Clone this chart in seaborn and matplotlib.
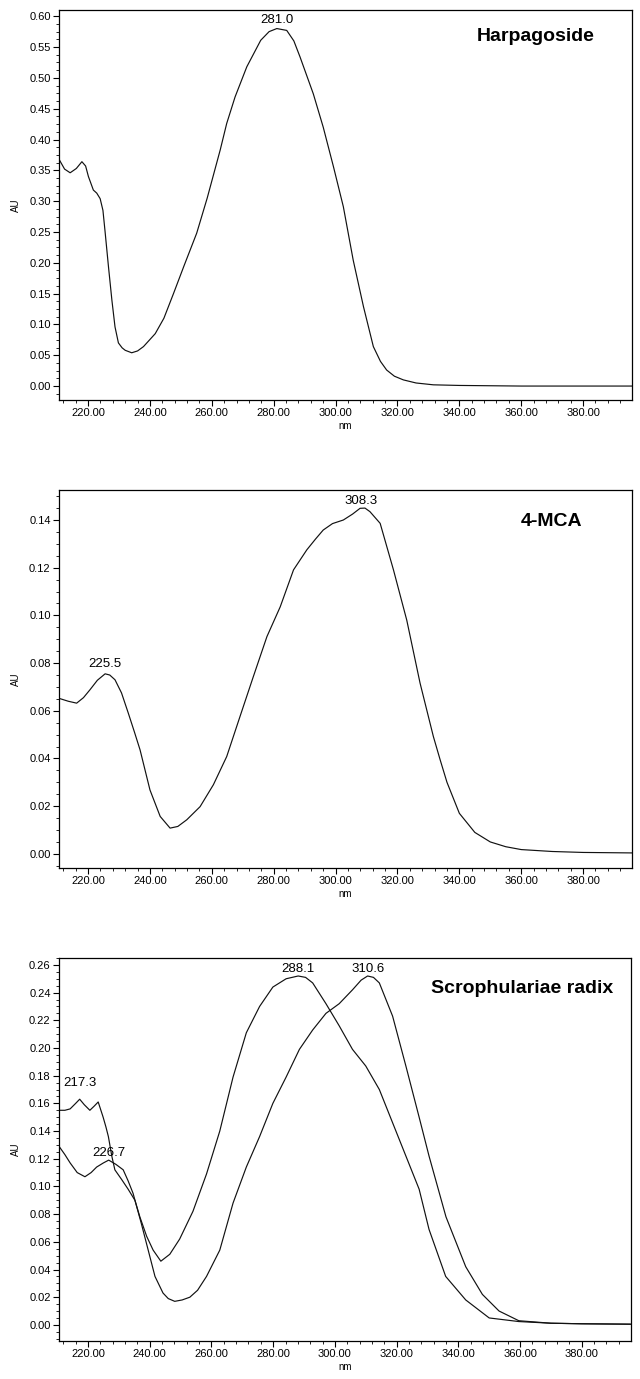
import numpy as np
import matplotlib
matplotlib.use('Agg')
import matplotlib.pyplot as plt
from matplotlib.ticker import AutoMinorLocator, FormatStrFormatter
import seaborn as sns

# Harpagoside spectrum
harp_nm = [210.6, 212.4, 214.2, 216.2, 218.0, 219.2, 220.1, 221.7, 222.8, 223.9, 224.8, 225.5,
           226.6, 227.7, 228.7, 229.8, 231.0, 232.0, 234.1, 236.0, 237.9, 241.7, 244.5, 247.6,
           251.0, 255.1, 258.5, 262.7, 264.8, 267.5, 271.3, 275.8, 278.5, 281.0, 284.2, 286.5,
           288.5, 292.8, 296.0, 299.3, 302.5, 305.7, 309.0, 312.2, 314.5, 316.5, 319.0, 321.9,
           326.0, 331.6, 340.0, 360.0, 380.0, 395.8]
harp_au = [0.368, 0.352, 0.346, 0.353, 0.364, 0.357, 0.340, 0.318, 0.313, 0.304, 0.285, 0.250,
           0.193, 0.139, 0.096, 0.070, 0.062, 0.058, 0.054, 0.057, 0.064, 0.085, 0.110, 0.150,
           0.195, 0.248, 0.305, 0.383, 0.426, 0.469, 0.518, 0.561, 0.575, 0.580, 0.577, 0.560,
           0.534, 0.474, 0.420, 0.356, 0.291, 0.204, 0.129, 0.064, 0.040, 0.026, 0.016, 0.010,
           0.005, 0.002, 0.001, 0.000, 0.000, 0.000]
harp_peaks = [281.0]

# 4-MCA spectrum
mca_nm = [210.4, 213.6, 216.3, 218.5, 220.6, 223.0, 225.5, 227.0, 228.7, 230.8, 233.0, 235.0,
          236.8, 240.0, 243.3, 246.5, 249.0, 251.9, 256.2, 260.5, 264.8, 269.1, 273.4, 277.8,
          282.1, 286.4, 290.7, 293.5, 296.0, 299.0, 302.5, 305.5, 307.9, 309.5, 311.1, 314.4,
          318.7, 323.0, 327.3, 331.6, 333.8, 336.0, 340.0, 345.0, 350.0, 355.0, 360.0, 370.0,
          380.0, 395.8]
mca_au = [0.0653, 0.0640, 0.0632, 0.0655, 0.0688, 0.0728, 0.0755, 0.0750, 0.0730, 0.0675, 0.0590, 0.0510,
          0.0436, 0.0268, 0.0157, 0.0108, 0.0115, 0.0143, 0.0198, 0.0290, 0.0408, 0.0576, 0.0743, 0.0911,
          0.1036, 0.1191, 0.1275, 0.1320, 0.1358, 0.1385, 0.1400, 0.1425, 0.1449, 0.1450, 0.1435, 0.1386,
          0.1191, 0.0980, 0.0716, 0.0492, 0.0394, 0.0300, 0.0170, 0.0090, 0.0050, 0.0030, 0.0018, 0.0010,
          0.0006, 0.0004]
mca_peaks = [225.5, 308.3]

# Scrophulariae radix, first peak (217.3 / 288.1)
scro_a_nm = [210.6, 212.5, 214.2, 216.0, 217.3, 218.8, 220.6, 222.0, 223.3, 224.9, 225.8, 226.6,
             227.7, 228.7, 230.9, 233.0, 235.2, 236.8, 239.0, 241.1, 243.6, 246.5, 249.7, 254.0,
             258.4, 262.7, 267.0, 271.3, 275.6, 279.9, 284.2, 288.1, 290.5, 292.8, 297.1, 301.4,
             305.7, 310.0, 314.4, 318.7, 323.0, 327.3, 330.5, 335.9, 342.4, 350.0, 359.6, 370.0,
             380.0, 395.8]
scro_a_au = [0.155, 0.155, 0.156, 0.160, 0.163, 0.159, 0.155, 0.158, 0.161, 0.150, 0.143, 0.136,
             0.122, 0.112, 0.105, 0.098, 0.090, 0.078, 0.064, 0.054, 0.046, 0.051, 0.062, 0.082,
             0.109, 0.140, 0.179, 0.211, 0.230, 0.244, 0.250, 0.252, 0.251, 0.247, 0.232, 0.216,
             0.199, 0.187, 0.170, 0.146, 0.122, 0.098, 0.069, 0.035, 0.018, 0.005, 0.0024, 0.0012,
             0.0008, 0.0005]
scro_a_peaks = [217.3, 288.1]

# Scrophulariae radix, second peak (226.7 / 310.6)
scro_b_nm = [210.6, 212.5, 214.2, 216.5, 219.0, 221.0, 222.8, 225.0, 226.7, 229.0, 231.4, 233.0,
             234.6, 237.3, 239.5, 241.7, 244.3, 246.0, 248.1, 250.5, 253.0, 255.5, 258.4, 262.7,
             267.0, 271.3, 275.6, 279.9, 284.2, 288.5, 292.8, 297.1, 301.4, 305.7, 308.5, 310.6,
             312.5, 314.4, 318.7, 323.0, 327.3, 330.5, 336.0, 342.4, 347.8, 353.2, 359.6, 370.0,
             380.0, 395.8]
scro_b_au = [0.129, 0.123, 0.117, 0.110, 0.107, 0.110, 0.114, 0.117, 0.119, 0.116, 0.112, 0.104,
             0.095, 0.073, 0.054, 0.035, 0.023, 0.019, 0.017, 0.018, 0.020, 0.025, 0.035, 0.054,
             0.088, 0.114, 0.136, 0.160, 0.179, 0.199, 0.213, 0.225, 0.232, 0.242, 0.249, 0.252,
             0.251, 0.247, 0.223, 0.187, 0.150, 0.122, 0.078, 0.042, 0.022, 0.010, 0.003, 0.0012,
             0.0008, 0.0005]
scro_b_peaks = [226.7, 310.6]

x_ticks = [220, 240, 260, 280, 300, 320, 340, 360, 380]


def style_axis(ax, ylim, ystep, yfmt):
    ax.set_xlim(210.6, 395.8)
    ax.set_ylim(*ylim)
    ax.set_xticks(x_ticks)
    ax.set_yticks(np.arange(0, ylim[1] + 1e-9, ystep))
    ax.xaxis.set_major_formatter(FormatStrFormatter('%.2f'))
    ax.yaxis.set_major_formatter(FormatStrFormatter(yfmt))
    ax.xaxis.set_minor_locator(AutoMinorLocator(5))
    ax.yaxis.set_minor_locator(AutoMinorLocator(4))
    ax.tick_params(which='major', direction='out', length=4, width=0.8, labelsize=8, pad=2,
                   colors='black')
    ax.tick_params(which='minor', direction='out', length=2, width=0.6, colors='black')
    for s in ax.spines.values():
        s.set_visible(True)
        s.set_linewidth(0.9)
        s.set_color('black')
    ax.set_xlabel('nm', fontsize=7, labelpad=2, color='black')
    ax.set_ylabel('AU', fontsize=7, color='black')
    ax.yaxis.set_label_coords(-0.066, 0.5)


def label_peaks(ax, nm, au, peaks, offsets=None):
    for i, p in enumerate(peaks):
        dy = offsets[i] if offsets else 1.5
        ax.annotate(f'{p:.1f}', xy=(p, np.interp(p, nm, au)), xytext=(0, dy),
                    textcoords='offset points', ha='center', va='bottom', fontsize=9.5,
                    color='black')


sns.set_style('ticks')
plt.rcParams['font.family'] = ['Liberation Sans', 'DejaVu Sans']
plt.rcParams['text.color'] = 'black'

fig = plt.figure(figsize=(6.4, 13.79), dpi=100)
ax1 = fig.add_axes([0.0922, 0.7099, 0.8953, 0.2828])
ax2 = fig.add_axes([0.0922, 0.3706, 0.8953, 0.2741])
ax3 = fig.add_axes([0.0922, 0.0276, 0.8930, 0.2777])

line_kw = dict(color='#111111', linewidth=0.85, estimator=None)

sns.lineplot(x=harp_nm, y=harp_au, ax=ax1, **line_kw)
style_axis(ax1, (-0.0227, 0.610), 0.05, '%.2f')
label_peaks(ax1, harp_nm, harp_au, harp_peaks)
ax1.text(0.935, 0.932, 'Harpagoside', transform=ax1.transAxes, ha='right', va='center',
         fontsize=14, fontweight='bold', color='black')

sns.lineplot(x=mca_nm, y=mca_au, ax=ax2, **line_kw)
style_axis(ax2, (-0.0059, 0.1526), 0.02, '%.2f')
label_peaks(ax2, mca_nm, mca_au, mca_peaks, [2.5, 1.0])
ax2.text(0.914, 0.917, '4-MCA', transform=ax2.transAxes, ha='right', va='center',
         fontsize=14, fontweight='bold', color='black')

sns.lineplot(x=scro_a_nm, y=scro_a_au, ax=ax3, **line_kw)
sns.lineplot(x=scro_b_nm, y=scro_b_au, ax=ax3, **line_kw)
style_axis(ax3, (-0.0116, 0.265), 0.02, '%.2f')
label_peaks(ax3, scro_a_nm, scro_a_au, scro_a_peaks, [7.0, 1.0])
label_peaks(ax3, scro_b_nm, scro_b_au, scro_b_peaks, [1.0, 1.0])
ax3.text(0.970, 0.920, 'Scrophulariae radix', transform=ax3.transAxes, ha='right', va='center',
         fontsize=14, fontweight='bold', color='black')

fig.savefig('out.png', dpi=100)
